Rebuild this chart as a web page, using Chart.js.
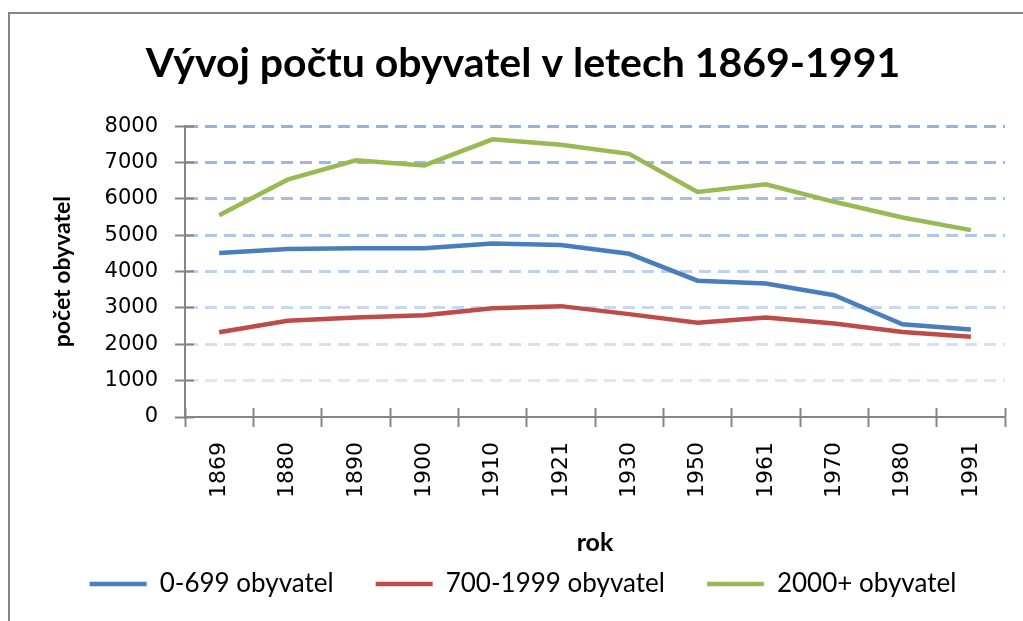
<!DOCTYPE html>
<html>
<head>
<meta charset="utf-8">
<script src="https://cdn.jsdelivr.net/npm/chart.js@4/dist/chart.umd.min.js"></script>
<style>
  html, body { margin: 0; padding: 0; background: #fff; }
  #wrap { width: 1023px; height: 621px; }
</style>
</head>
<body>
<div id="wrap"><canvas id="c" width="1023" height="621"></canvas></div>
<script>
const titleText = 'Vývoj počtu obyvatel v letech 1869-1991';
const yAxisTitle = 'počet obyvatel';
const xAxisTitle = 'rok';
const years = ['1869','1880','1890','1900','1910','1921','1930','1950','1961','1970','1980','1991'];
const seriesNames = ['0-699 obyvatel', '700-1999 obyvatel', '2000+ obyvatel'];
const small = [4510, 4620, 4640, 4640, 4770, 4730, 4490, 3750, 3670, 3350, 2550, 2410];
const medium = [2330, 2650, 2740, 2800, 2990, 3050, 2830, 2590, 2740, 2570, 2340, 2210];
const large = [5550, 6530, 7060, 6920, 7640, 7490, 7240, 6190, 6400, 5920, 5490, 5140];
const yMin = 0, yMax = 8000, yStep = 1000;

const colors = ['#4a7ebb', '#be4b48', '#98b954'];
const gridColors = {8000:'#97b3df',7000:'#9db8e2',6000:'#a6bee5',5000:'#b1c7e9',4000:'#bdd0ed',3000:'#c9d8f1',2000:'#d4e0f4',1000:'#dfe7f7'};
const axisGray = '#868686';

const borderPlugin = {
  id: 'frame',
  beforeDraw(chart) {
    const ctx = chart.ctx;
    ctx.save();
    ctx.fillStyle = '#fff';
    ctx.fillRect(0, 0, chart.width, chart.height);
    ctx.strokeStyle = axisGray;
    ctx.lineWidth = 2;
    ctx.strokeRect(9, 13, chart.width + 40, chart.height + 40);
    ctx.restore();
  }
};

// inner half of the crossing tick marks, taken from the scales' own tick positions
const crossTicks = {
  id: 'crossTicks',
  afterDraw(chart) {
    const ctx = chart.ctx;
    ctx.save();
    ctx.strokeStyle = axisGray;
    ctx.lineWidth = 2;
    const xs = chart.scales.x, ys = chart.scales.y;
    const L = 9;
    (xs._gridLineItems || []).forEach(it => {
      ctx.beginPath();
      ctx.moveTo(it.tx1, ys.bottom);
      ctx.lineTo(it.tx1, ys.bottom - L);
      ctx.stroke();
    });
    (ys._gridLineItems || []).forEach(it => {
      ctx.beginPath();
      ctx.moveTo(xs.left, it.ty1);
      ctx.lineTo(xs.left + L, it.ty1);
      ctx.stroke();
    });
    ctx.restore();
  }
};

const datasets = [small, medium, large].map((d, i) => ({
  label: seriesNames[i],
  data: d,
  borderColor: colors[i],
  backgroundColor: colors[i],
  borderWidth: 4.5,
  pointRadius: 0,
  tension: 0,
  fill: false
}));

new Chart(document.getElementById('c'), {
  type: 'line',
  data: { labels: years, datasets },
  plugins: [borderPlugin, crossTicks],
  options: {
    responsive: false,
    animation: false,
    devicePixelRatio: 1,
    layout: { padding: { left: 41, right: 18, top: 0, bottom: 14 } },
    plugins: {
      title: {
        display: true,
        text: titleText,
        color: '#000',
        font: { family: 'Lato', size: 41, weight: 'bold', lineHeight: 1.2 },
        padding: { top: 39, bottom: 38 }
      },
      legend: {
        display: true,
        position: 'bottom',
        labels: {
          usePointStyle: true,
          pointStyle: 'line',
          pointStyleWidth: 57,
          padding: 42,
          color: '#000',
          font: { family: 'Lato', size: 26 }
        }
      },
      tooltip: { enabled: false }
    },
    scales: {
      x: {
        type: 'category',
        offset: true,
        afterFit(scale) { scale.height = 112; },
        grid: {
          offset: true,
          drawOnChartArea: false,
          drawTicks: true,
          tickLength: 10,
          tickColor: axisGray,
          tickWidth: 2
        },
        border: { color: axisGray, width: 2 },
        ticks: {
          autoSkip: false,
          minRotation: 90,
          maxRotation: 90,
          padding: 15,
          color: '#000',
          font: { family: 'DejaVu Sans', size: 22 }
        },
        title: {
          display: true,
          text: xAxisTitle,
          color: '#000',
          font: { family: 'Lato', size: 25, weight: 'bold', lineHeight: 1.2 },
          padding: { top: 0, bottom: -29 }
        }
      },
      y: {
        min: yMin,
        max: yMax,
        afterFit(scale) { scale.width = 144; },
        grid: {
          drawTicks: true,
          tickLength: 10,
          tickWidth: 2,
          tickColor: axisGray,
          lineWidth: 3,
          color: (c) => (c.tick && gridColors[c.tick.value]) ? gridColors[c.tick.value] : 'rgba(0,0,0,0)'
        },
        border: { color: axisGray, width: 2, dash: [12, 7] },
        ticks: {
          stepSize: yStep,
          padding: 17,
          color: '#000',
          font: { family: 'DejaVu Sans', size: 21 },
          callback: (v) => String(v)
        },
        title: {
          display: true,
          text: yAxisTitle,
          color: '#000',
          font: { family: 'Lato', size: 23, weight: 'bold', lineHeight: 1.2 },
          padding: { top: 8, bottom: 0 }
        }
      }
    }
  }
});
</script>
</body>
</html>
